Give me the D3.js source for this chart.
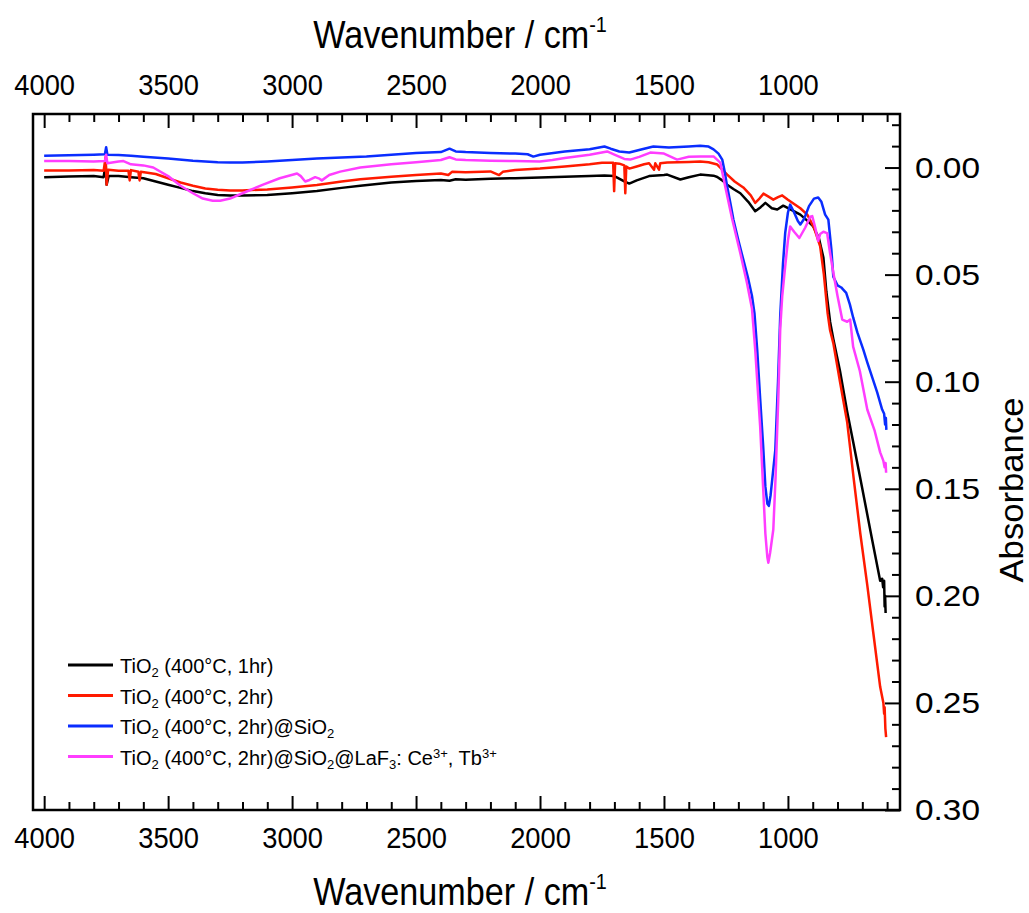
<!DOCTYPE html>
<html>
<head>
<meta charset="utf-8">
<script src="https://cdn.jsdelivr.net/npm/d3@7"></script>
<style>
  body { margin: 0; background: #fff; }
  svg text { font-family: "Liberation Sans", Arial, sans-serif; fill: #000; }
</style>
</head>
<body>
<svg id="chart" width="1029" height="913"></svg>
<script>
'use strict';

// ---- data: [wavenumber cm-1, absorbance] ----
var tio2_1hr = [
  [4000,0.0045],[3900,0.0042],[3800,0.0040],[3760,0.0045],[3752,-0.002],[3748,0.008],[3740,0.004],
  [3700,0.004],[3650,0.0045],[3600,0.005],[3550,0.0065],[3500,0.008],[3450,0.0095],[3400,0.011],
  [3350,0.012],[3300,0.0128],[3250,0.0131],[3200,0.0131],[3100,0.0128],[3000,0.012],[2900,0.011],
  [2800,0.0095],[2725,0.0085],[2600,0.007],[2500,0.0063],[2400,0.0058],[2365,0.0062],[2340,0.0055],
  [2300,0.0057],[2200,0.0052],[2100,0.005],[2000,0.0047],[1900,0.0043],[1800,0.0040],[1740,0.0037],
  [1700,0.0040],[1660,0.0065],[1640,0.0075],[1610,0.006],[1560,0.004],[1500,0.0035],[1487,0.0033],
  [1434,0.0056],[1400,0.0045],[1354,0.0033],[1300,0.0038],[1285,0.0044],[1265,0.006],[1245,0.008],
  [1220,0.010],[1192,0.012],[1160,0.016],[1132,0.0204],[1110,0.0185],[1091,0.0165],[1065,0.019],
  [1043,0.0196],[1019,0.0178],[990,0.0195],[950,0.022],[920,0.025],[898,0.0275],[875,0.033],
  [857,0.042],[845,0.058],[830,0.072],[817,0.08],[790,0.095],[761,0.114],[737,0.128],[700,0.150],
  [660,0.174],[628,0.193],[620,0.192],[616,0.196],[612,0.193],[610,0.205],[608,0.2],[606,0.208]
];

var tio2_2hr = [
  [4000,0.0014],[3900,0.0014],[3800,0.0012],[3760,0.0015],[3752,-0.005],[3748,0.008],[3742,0.001],
  [3700,0.0015],[3660,0.0015],[3655,0.006],[3650,0.0012],[3620,0.002],[3615,0.006],[3610,0.002],
  [3550,0.003],[3500,0.005],[3450,0.007],[3400,0.0085],[3350,0.0098],[3300,0.0104],[3250,0.0107],
  [3200,0.0107],[3100,0.0102],[3000,0.0093],[2900,0.0082],[2800,0.0065],[2725,0.0055],[2600,0.0043],
  [2500,0.0035],[2400,0.0028],[2370,0.0035],[2355,0.002],[2300,0.0022],[2200,0.0018],[2165,0.0035],
  [2150,0.002],[2100,0.0012],[2000,0.0005],[1900,-0.0005],[1800,-0.0015],[1750,-0.0022],[1705,-0.0022],
  [1701,0.011],[1697,-0.002],[1680,-0.0018],[1660,-0.001],[1656,0.012],[1652,-0.0005],[1640,0.0005],
  [1610,-0.0005],[1580,-0.0015],[1560,-0.002],[1540,0.001],[1535,-0.002],[1520,0.001],[1515,-0.002],
  [1487,-0.0023],[1400,-0.0026],[1354,-0.0028],[1320,-0.0025],[1285,-0.0014],[1265,0.001],[1245,0.0033],
  [1215,0.0065],[1180,0.0093],[1150,0.013],[1132,0.0165],[1115,0.0145],[1099,0.0122],[1080,0.0135],
  [1059,0.015],[1040,0.0138],[1023,0.013],[1000,0.015],[978,0.0168],[950,0.019],[922,0.022],
  [895,0.028],[870,0.0368],[855,0.05],[840,0.068],[830,0.076],[817,0.082],[790,0.100],[761,0.119],
  [735,0.145],[708,0.171],[680,0.195],[656,0.217],[628,0.2425],[615,0.25],[612,0.255],[610,0.252],
  [607,0.262],[604,0.266]
];

var tio2_sio2 = [
  [4000,-0.0055],[3900,-0.0057],[3800,-0.006],[3755,-0.0062],[3750,-0.0095],[3745,-0.006],[3700,-0.0058],
  [3650,-0.0055],[3600,-0.005],[3500,-0.0042],[3400,-0.0032],[3300,-0.0025],[3250,-0.0023],[3200,-0.0023],
  [3100,-0.0028],[3000,-0.0035],[2900,-0.0042],[2800,-0.0047],[2700,-0.0052],[2600,-0.006],[2500,-0.0068],
  [2400,-0.0072],[2365,-0.0088],[2340,-0.0075],[2300,-0.0072],[2200,-0.0068],[2100,-0.0065],[2050,-0.0062],
  [2027,-0.0051],[2000,-0.006],[1900,-0.0075],[1800,-0.0085],[1740,-0.0098],[1715,-0.0088],[1680,-0.0075],
  [1640,-0.007],[1600,-0.0082],[1543,-0.0098],[1480,-0.0093],[1400,-0.0098],[1354,-0.0102],[1320,-0.0098],
  [1300,-0.0085],[1280,-0.0065],[1265,-0.0037],[1255,0.002],[1245,0.0089],[1230,0.018],[1220,0.0243],
  [1200,0.034],[1180,0.043],[1160,0.052],[1145,0.060],[1135,0.068],[1124,0.085],[1112,0.108],
  [1100,0.13],[1091,0.149],[1083,0.157],[1077,0.158],[1070,0.153],[1061,0.143],[1051,0.132],[1040,0.1],
  [1031,0.069],[1020,0.045],[1011,0.0305],[1000,0.021],[991,0.0173],[975,0.021],[960,0.025],[950,0.0266],
  [935,0.024],[915,0.018],[895,0.0145],[878,0.014],[865,0.016],[850,0.022],[837,0.0243],[825,0.038],
  [817,0.051],[800,0.055],[785,0.056],[777,0.057],[765,0.0585],[750,0.064],[737,0.07],[720,0.077],
  [696,0.085],[680,0.091],[660,0.098],[640,0.105],[620,0.113],[612,0.115],[608,0.12],[605,0.117],[603,0.1225]
];

var tio2_sio2_laf3 = [
  [4000,-0.003],[3900,-0.003],[3800,-0.0028],[3755,-0.003],[3750,-0.006],[3745,-0.002],[3700,-0.0028],
  [3680,-0.003],[3650,-0.0015],[3600,-0.001],[3560,0.0],[3500,0.004],[3450,0.0085],[3400,0.012],
  [3360,0.0145],[3320,0.0155],[3290,0.0155],[3250,0.0145],[3200,0.012],[3117,0.008],[3050,0.005],
  [2980,0.0028],[2965,0.004],[2947,0.0065],[2930,0.0058],[2907,0.0045],[2890,0.0052],[2880,0.006],
  [2850,0.0035],[2806,0.0019],[2725,0.0],[2600,-0.0015],[2500,-0.0025],[2400,-0.0035],[2365,-0.0048],
  [2340,-0.0038],[2300,-0.0035],[2200,-0.0032],[2100,-0.003],[2000,-0.0028],[1950,-0.0035],[1900,-0.0045],
  [1800,-0.006],[1729,-0.0075],[1700,-0.006],[1660,-0.004],[1636,-0.0037],[1600,-0.005],[1555,-0.007],
  [1500,-0.0065],[1447,-0.0037],[1400,-0.005],[1354,-0.0052],[1300,-0.0052],[1273,-0.0023],[1253,0.0089],
  [1225,0.024],[1192,0.04],[1165,0.054],[1145,0.066],[1132,0.085],[1112,0.121],[1091,0.171],[1083,0.182],[1079,0.1845],
  [1072,0.18],[1059,0.169],[1050,0.145],[1039,0.108],[1031,0.075],[1023,0.06],[1011,0.046],[1000,0.034],
  [991,0.0275],[975,0.03],[954,0.0329],[930,0.028],[910,0.023],[902,0.0227],[890,0.028],[878,0.0343],
  [870,0.031],[857,0.03],[842,0.0306],[830,0.04],[817,0.049],[800,0.06],[781,0.071],[761,0.072],
  [749,0.071],[737,0.0836],[710,0.095],[680,0.113],[650,0.123],[628,0.133],[615,0.137],[610,0.14],
  [606,0.138],[604,0.1425]
];

var xMajor = [4000, 3500, 3000, 2500, 2000, 1500, 1000];
var yMajor = [0.00, 0.05, 0.10, 0.15, 0.20, 0.25, 0.30];

var seriesColors = ["#000000", "#ff1a00", "#0a2dff", "#ff3dff"];
// legend text pieces: [text, "sub" | "sup" | ""]
var legendLabels = [
  [["TiO",""],["2","sub"],[" (400°C, 1hr)",""]],
  [["TiO",""],["2","sub"],[" (400°C, 2hr)",""]],
  [["TiO",""],["2","sub"],[" (400°C, 2hr)@SiO",""],["2","sub"]],
  [["TiO",""],["2","sub"],[" (400°C, 2hr)@SiO",""],["2","sub"],["@LaF",""],["3","sub"],[": Ce",""],["3+","sup"],[", Tb",""],["3+","sup"]]
];

var allSeries = [tio2_1hr, tio2_2hr, tio2_sio2, tio2_sio2_laf3];

// ---- layout ----
var svg = d3.select("#chart");
var plot = {left: 33, right: 900, top: 114, bottom: 810};

var x = d3.scaleLinear().domain([4045, 548]).range([plot.left, plot.right]);
var y = d3.scaleLinear().domain([-0.025, 0.30]).range([plot.top, plot.bottom]);

var xMinor = d3.range(4000, 599, -100).filter(function(v){ return xMajor.indexOf(v) < 0; });
var yMinor = d3.range(-2, 30)
  .filter(function(v){ return v % 5 !== 0; })
  .map(function(v){ return v / 100; });

svg.append("rect").attr("width", 1029).attr("height", 913).attr("fill", "#fff");

function styleAxis(g) {
  g.select(".domain").remove();
  g.selectAll(".tick line").attr("stroke", "#000").attr("stroke-width", 2);
}

// bottom axis
svg.append("g")
  .attr("transform", "translate(0," + plot.bottom + ")")
  .call(d3.axisBottom(x).tickValues(xMinor).tickSize(-8).tickFormat(""))
  .call(styleAxis);
var xb = svg.append("g")
  .attr("transform", "translate(0," + plot.bottom + ")")
  .call(d3.axisBottom(x).tickValues(xMajor).tickSize(-14).tickSizeOuter(0).tickPadding(17).tickFormat(d3.format("d")))
  .call(styleAxis);

// top axis
svg.append("g")
  .attr("transform", "translate(0," + plot.top + ")")
  .call(d3.axisTop(x).tickValues(xMinor).tickSize(-8).tickFormat(""))
  .call(styleAxis);
var xt = svg.append("g")
  .attr("transform", "translate(0," + plot.top + ")")
  .call(d3.axisTop(x).tickValues(xMajor).tickSize(-14).tickSizeOuter(0).tickPadding(19).tickFormat(d3.format("d")))
  .call(styleAxis);

[xb, xt].forEach(function(g){
  g.selectAll("text")
    .attr("font-size", 30)
    .attr("font-family", "'Liberation Sans', Arial, sans-serif")
    .attr("fill", "#000")
    .attr("transform", "scale(0.91,1)");
});

// right axis
svg.append("g")
  .attr("transform", "translate(" + plot.right + ",0)")
  .call(d3.axisRight(y).tickValues(yMinor).tickSize(-8).tickFormat(""))
  .call(styleAxis);
var yr = svg.append("g")
  .attr("transform", "translate(" + plot.right + ",0)")
  .call(d3.axisRight(y).tickValues(yMajor).tickSize(-15).tickSizeOuter(0).tickPadding(15).tickFormat(d3.format(".2f")))
  .call(styleAxis);
yr.selectAll("text")
  .attr("font-size", 30)
  .attr("font-family", "'Liberation Sans', Arial, sans-serif")
  .attr("fill", "#000")
  .attr("textLength", 65)
  .attr("lengthAdjust", "spacingAndGlyphs");

// frame
svg.append("rect")
  .attr("x", plot.left).attr("y", plot.top)
  .attr("width", plot.right - plot.left).attr("height", plot.bottom - plot.top)
  .attr("fill", "none").attr("stroke", "#000").attr("stroke-width", 2.5);

// curves
var line = d3.line()
  .x(function(d){ return x(d[0]); })
  .y(function(d){ return y(d[1]); });

svg.append("g").selectAll("path")
  .data(allSeries)
  .enter().append("path")
    .attr("d", line)
    .attr("fill", "none")
    .attr("stroke", function(d, i){ return seriesColors[i]; })
    .attr("stroke-width", 2.5)
    .attr("stroke-linejoin", "round");

// axis titles
function title(yPos) {
  var t = svg.append("text")
    .attr("x", 0).attr("y", 0)
    .attr("text-anchor", "middle")
    .attr("font-size", 38)
    .attr("transform", "translate(460," + yPos + ") scale(0.9,1)");
  t.append("tspan").text("Wavenumber / cm");
  t.append("tspan").attr("font-size", 22).attr("dy", -16).text("-1");
}
title(48);
title(905);

svg.append("text")
  .attr("transform", "translate(1023,490) rotate(-90)")
  .attr("text-anchor", "middle")
  .attr("font-size", 33)
  .attr("textLength", 185)
  .attr("lengthAdjust", "spacingAndGlyphs")
  .text("Absorbance");

// legend
var legend = svg.append("g").attr("transform", "translate(68,665)");
var rows = legend.selectAll("g")
  .data(legendLabels)
  .enter().append("g")
    .attr("transform", function(d, i){ return "translate(0," + (i * 30.5) + ")"; });

rows.append("line")
  .attr("x1", 0).attr("x2", 45)
  .attr("stroke", function(d, i){ return seriesColors[i]; })
  .attr("stroke-width", 3);

rows.append("text")
  .attr("x", 52).attr("y", 8)
  .attr("font-size", 20)
  .each(function(parts){
    var t = d3.select(this);
    parts.forEach(function(p){
      var s = t.append("tspan").text(p[0]);
      if (p[1] === "sub") s.attr("font-size", 13).attr("baseline-shift", "-30%");
      if (p[1] === "sup") s.attr("font-size", 13).attr("baseline-shift", "55%");
    });
  });
</script>
</body>
</html>
